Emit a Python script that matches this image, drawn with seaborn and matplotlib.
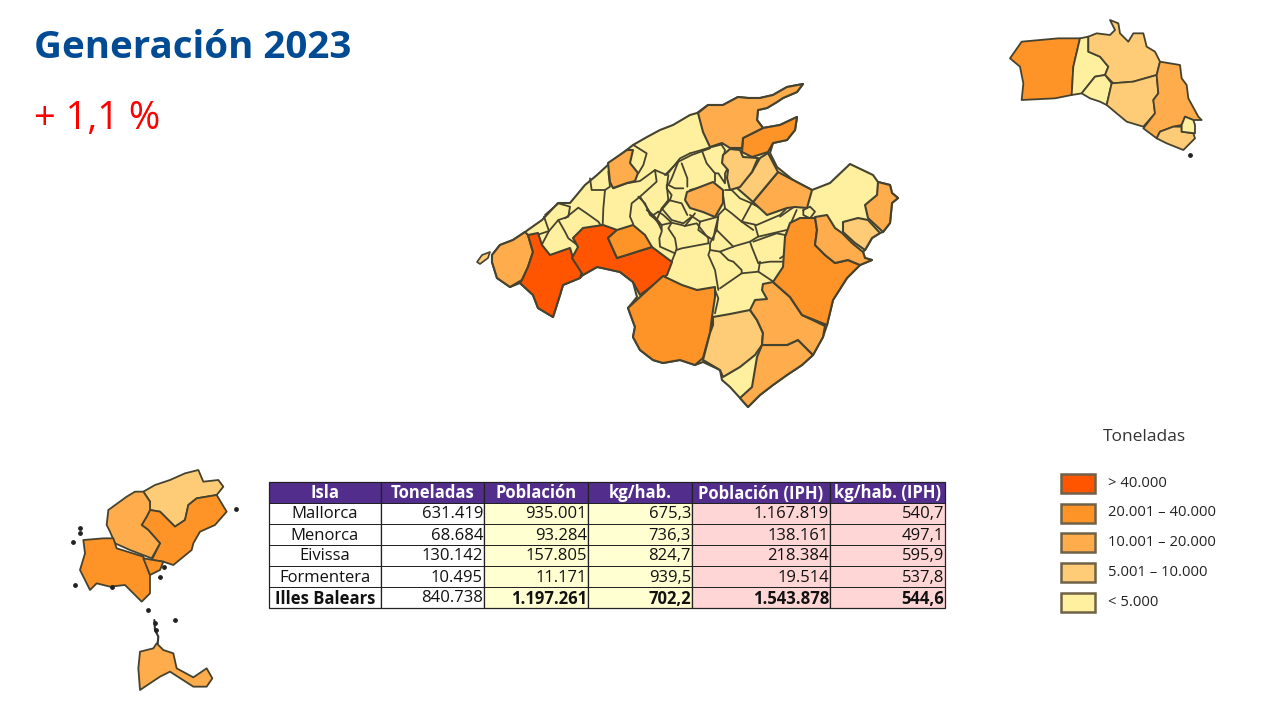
import matplotlib
matplotlib.use("Agg")
import matplotlib.pyplot as plt
import numpy as np
import seaborn as sns
from matplotlib.colors import ListedColormap
from matplotlib.patches import Rectangle

W, H = 1288, 715
EDGE = "#45432f"

# clases de la leyenda (de mayor a menor)
class_labels = ["> 40.000", "20.001 – 40.000", "10.001 – 20.000", "5.001 – 10.000", "< 5.000"]
class_colors = ["#FF5500", "#FE9428", "#FEAC4C", "#FECB76", "#FFF0A0"]

# tabla
table_header = ["Isla", "Toneladas", "Población", "kg/hab.", "Población (IPH)", "kg/hab. (IPH)"]
islas = ["Mallorca", "Menorca", "Eivissa", "Formentera", "Illes Balears"]
toneladas = ["631.419", "68.684", "130.142", "10.495", "840.738"]
poblacion = ["935.001", "93.284", "157.805", "11.171", "1.197.261"]
kg_hab = ["675,3", "736,3", "824,7", "939,5", "702,2"]
poblacion_iph = ["1.167.819", "138.161", "218.384", "19.514", "1.543.878"]
kg_hab_iph = ["540,7", "497,1", "595,9", "537,8", "544,6"]
table_fill = [1, 1, 2, 2, 3, 3]
table_cols = [269, 381, 484, 588, 692, 830, 945]
table_rows = [482, 503, 524, 545, 566, 587, 608]
bold_last = [True, False, True, True, True, True]

# Mallorca: costa (pixeles de la imagen)
mallorca_coast = [(492, 255), (500, 245), (513, 240), (525, 232), (542, 220), (558, 203), (570, 203), (585, 185),
                  (597, 175), (610, 163), (633, 145), (647, 137), (660, 130), (673, 125), (690, 115), (697, 113),
                  (708, 105), (723, 105), (738, 97), (748, 98), (760, 98), (773, 95), (787, 87), (803, 84), (797, 92),
                  (783, 98), (777, 102), (767, 108), (758, 110), (757, 120), (763, 128), (780, 125), (797, 117),
                  (795, 130), (787, 140), (773, 143), (770, 153), (777, 167), (793, 180), (812, 190), (830, 183),
                  (850, 164), (873, 175), (878, 182), (890, 185), (892, 193), (898, 198), (892, 203), (890, 223),
                  (883, 232), (880, 233), (872, 238), (865, 250), (863, 252), (865, 258), (872, 260), (860, 265),
                  (847, 278), (833, 300), (827, 325), (823, 337), (813, 355), (802, 365),
                  (787, 375), (773, 385), (760, 395), (748, 407), (740, 398), (730, 387), (722, 380), (720, 370),
                  (703, 362), (695, 365), (680, 360), (663, 363), (653, 360), (640, 350), (633, 337), (635, 327),
                  (628, 308), (637, 297), (633, 282), (620, 272), (603, 268), (597, 267), (583, 275), (580, 278),
                  (563, 285), (560, 295), (553, 317), (538, 308), (533, 295), (520, 283), (510, 287), (497, 278),
                  (492, 262)]
dragonera = [(477, 262), (482, 255), (490, 252), (488, 258), (480, 264)]

# Mallorca: municipios coloreados (clase, puntos)
andratx = (2, [(492, 255), (500, 245), (513, 240), (525, 232), (528, 235), (533, 252), (528, 267), (522, 280),
               (510, 287), (497, 278), (492, 262)])
calvia = (0, [(528, 235), (538, 233), (542, 245), (550, 255), (570, 248), (573, 258), (582, 272), (580, 278), (563, 285),
              (560, 295), (553, 317), (538, 308), (533, 295), (520, 283), (522, 280), (528, 267), (533, 252)])
palma = (0, [(573, 238), (583, 228), (603, 225), (617, 230), (608, 238), (617, 258), (652, 247), (672, 262), (667, 275),
             (640, 295), (633, 282), (620, 272), (597, 267), (583, 275), (572, 258), (578, 247)])
marratxi = (1, [(608, 238), (617, 230), (633, 225), (645, 235), (652, 247), (617, 258)])
llucmajor = (1, [(663, 276), (682, 285), (697, 290), (715, 287), (715, 297), (712, 317), (710, 333), (703, 358), (695, 365),
                 (680, 360), (663, 363), (653, 360), (640, 350), (633, 337), (635, 327), (628, 308), (640, 297)])
campos = (3, [(713, 317), (730, 314), (750, 310), (757, 320), (763, 333), (762, 345), (755, 355), (740, 367), (723, 377),
              (720, 370), (703, 360), (710, 333), (713, 325)])
santanyi = (2, [(762, 345), (787, 345), (798, 340), (813, 355), (802, 365), (787, 375), (773, 385), (760, 395), (748, 407),
                (740, 398), (752, 387), (757, 357)])
felanitx = (2, [(763, 284), (773, 282), (790, 297), (802, 315), (825, 326), (823, 337), (813, 355), (798, 340), (787, 345),
                (762, 345), (763, 333), (757, 320), (750, 310), (755, 300), (767, 299), (762, 290)])
manacor = (1, [(790, 223), (800, 218), (815, 218), (817, 230), (815, 245), (825, 255), (835, 263), (848, 260), (860, 265),
               (847, 278), (833, 300), (827, 325), (802, 315), (790, 297), (773, 282), (783, 267), (785, 237)])
sant_llorenc = (2, [(815, 217), (827, 215), (835, 228), (842, 233), (852, 243), (863, 252), (865, 258), (872, 260),
                    (860, 265), (848, 260), (835, 263), (825, 255), (815, 245), (817, 230)])
son_servera = (3, [(843, 222), (858, 218), (868, 220), (880, 233), (872, 238), (865, 250), (855, 243), (843, 232)])
capdepera = (2, [(878, 182), (890, 185), (892, 193), (898, 198), (892, 203), (890, 223), (883, 232), (868, 218), (865, 205),
                 (877, 195)])
santa_margalida = (2, [(778, 172), (793, 180), (812, 190), (807, 208), (795, 207), (787, 208), (767, 215), (753, 202)])
muro = (3, [(760, 158), (768, 153), (778, 172), (753, 202), (737, 188), (752, 172)])
sa_pobla = (3, [(723, 155), (730, 149), (740, 150), (743, 157), (758, 158), (752, 172), (740, 187), (730, 190), (727, 178),
                (728, 170), (722, 163)])
inca = (2, [(687, 192), (700, 187), (713, 182), (723, 190), (723, 203), (715, 217), (703, 212), (690, 208), (685, 200)])
alcudia = (1, [(763, 128), (780, 125), (797, 117), (795, 130), (787, 140), (773, 143), (768, 152), (752, 157), (742, 152),
               (743, 138)])
pollenca = (2, [(698, 113), (708, 105), (723, 105), (738, 97), (748, 98), (760, 98), (773, 95), (787, 87), (803, 84),
                (797, 92), (783, 98), (777, 102), (767, 108), (758, 110), (757, 120), (763, 128), (743, 138), (742, 148),
                (730, 148), (722, 143), (710, 147), (703, 132)])
soller = (2, [(608, 163), (627, 150), (633, 150), (630, 163), (638, 173), (635, 181), (627, 183), (613, 188), (610, 182)])
mallorca_regions = [andratx, calvia, palma, marratxi, llucmajor, campos, santanyi, felanitx, manacor, sant_llorenc,
                    son_servera, capdepera, santa_margalida, muro, sa_pobla, inca, alcudia, pollenca, soller]

# lineas entre municipios amarillos, por recorte de la imagen (origen, escala 3)
west_origin = (470, 75)
west_lines = [
    [(222, 425), (237, 468), (207, 478)],
    [(215, 510), (237, 468), (265, 435), (285, 470), (295, 490), (325, 512)],
    [(225, 420), (265, 385), (300, 395), (295, 425), (265, 435)],
    [(285, 430), (325, 398), (350, 415), (385, 440), (395, 455)],
    [(360, 310), (365, 345), (405, 345), (400, 400), (398, 450)],
    [(415, 290), (420, 335), (405, 345)],
    [(430, 340), (470, 325), (510, 318), (555, 285), (560, 320), (510, 365), (485, 385), (480, 425), (490, 448)],
    [(510, 365), (545, 420), (570, 450)],
    [(570, 410), (600, 375), (605, 360), (590, 340), (595, 300)],
    [(555, 285), (590, 300), (630, 250), (660, 235)],
    [(490, 210), (530, 235), (520, 270), (505, 295)],
]
north_origin = (600, 120)
north_lines = [
    [(195, 165), (235, 125), (275, 105), (330, 85)],
    [(235, 125), (215, 175), (205, 195), (225, 205), (250, 205)],
    [(245, 130), (262, 175), (262, 200)],
    [(205, 240), (200, 195)],
    [(205, 240), (245, 250), (262, 285)],
    [(115, 230), (135, 250), (150, 285), (170, 300), (185, 265), (205, 240)],
    [(185, 265), (215, 300), (250, 310), (275, 290)],
    [(170, 300), (185, 330)],
]
inca_origin = (690, 130)
inca_lines = [
    [(0, 70), (35, 60), (50, 55), (100, 42)],
    [(35, 60), (50, 100), (75, 130), (75, 155)],
    [(95, 45), (105, 60), (100, 85), (115, 110), (105, 130), (105, 160), (85, 130), (75, 130)],
    [(0, 180), (40, 170), (70, 160)],
    [(105, 180), (125, 180), (150, 205), (185, 220), (155, 275), (190, 300)],
    [(85, 255), (105, 235), (125, 250), (155, 275)],
    [(105, 235), (100, 200)],
    [(185, 220), (240, 250), (285, 235), (300, 215)],
    [(155, 275), (200, 285), (270, 255), (300, 225)],
    [(195, 285), (205, 320), (290, 300)],
    [(30, 275), (85, 260), (75, 300), (70, 330), (45, 315), (25, 300), (30, 275)],
    [(0, 255), (30, 275)],
]
centre_origin = (640, 210)
centre_lines = [
    [(20, 0), (40, 15), (55, 5)],
    [(40, 15), (65, 45), (95, 38), (70, 15), (55, 5)],
    [(95, 38), (125, 45), (135, 48), (165, 10)],
    [(65, 45), (65, 65), (58, 85), (60, 110), (105, 130), (110, 115), (105, 85), (85, 55), (95, 38)],
    [(110, 120), (125, 115), (205, 100)],
    [(135, 48), (170, 40), (205, 85), (205, 100)],
    [(235, 15), (230, 60), (210, 100), (210, 120), (240, 125), (285, 108), (330, 95), (354, 80)],
    [(230, 60), (280, 110)],
    [(210, 120), (205, 135), (225, 180), (235, 240)],
    [(240, 125), (265, 150), (280, 155), (305, 180), (305, 190), (240, 235)],
    [(360, 155), (355, 185), (305, 190)],
    [(330, 95), (335, 110), (355, 160), (390, 155), (430, 155)],
    [(355, 185), (400, 215)],
    [(340, 95), (410, 70), (435, 75)],
    [(225, 240), (235, 265), (225, 310)],
    [(105, 130), (95, 155)],
]
east_origin = (780, 180)
east_lines = [
    [(0, 110), (40, 82)],
    [(50, 90), (15, 170), (15, 225), (0, 235)],
    [(70, 90), (90, 80), (105, 95), (90, 115), (70, 105), (70, 90)],
]
mallorca_line_groups = [(west_origin, west_lines), (north_origin, north_lines), (inca_origin, inca_lines),
                        (centre_origin, centre_lines), (east_origin, east_lines)]

# Menorca (origen 1000,10, escala 3)
menorca_origin = (1000, 10)
ciutadella = (1, [(30, 145), (65, 95), (120, 90), (175, 85), (240, 85), (220, 170), (215, 255), (165, 265), (65, 270),
                  (70, 220), (60, 170)])
ferreries = (4, [(240, 85), (265, 80), (265, 125), (300, 140), (325, 170), (315, 195), (285, 200), (245, 250), (215, 255),
                 (220, 170)])
mercadal = (3, [(265, 80), (290, 70), (330, 75), (345, 60), (330, 30), (355, 40), (360, 70), (385, 95), (400, 70),
                (430, 70), (440, 110), (465, 125), (480, 155), (470, 195), (400, 215), (340, 220), (315, 195), (325, 170),
                (300, 140), (265, 125)])
migjorn = (4, [(285, 200), (315, 195), (335, 220), (320, 285), (300, 275), (270, 265), (245, 250)])
alaior = (3, [(335, 220), (400, 215), (470, 195), (475, 250), (460, 270), (465, 310), (430, 350), (380, 335), (320, 285)])
mao = (2, [(480, 155), (540, 165), (545, 205), (560, 225), (565, 265), (595, 320), (605, 330), (580, 330), (555, 320),
           (545, 345), (520, 350), (480, 365), (470, 385), (430, 355), (465, 310), (460, 270), (475, 250), (470, 195)])
sant_lluis = (3, [(480, 365), (520, 350), (545, 350), (545, 365), (580, 370), (585, 385), (550, 420), (500, 400), (470, 385)])
es_castell = (4, [(555, 320), (580, 330), (585, 345), (585, 370), (545, 365), (545, 345)])
menorca_regions = [ciutadella, ferreries, mercadal, migjorn, alaior, mao, sant_lluis, es_castell]
menorca_islets = [(570, 435)]

# Eivissa y Formentera (origen 60,460, escala 3)
eivissa_origin = (60, 460)
sant_joan = (3, [(250, 95), (285, 75), (330, 60), (375, 40), (415, 30), (430, 65), (475, 60), (490, 80), (470, 105),
                 (410, 115), (385, 135), (375, 180), (345, 200), (320, 175), (300, 155), (270, 150), (270, 125)])
santa_eularia = (1, [(270, 150), (300, 155), (320, 175), (345, 200), (375, 180), (385, 135), (410, 115), (470, 105),
                     (500, 155), (465, 195), (420, 215), (400, 250), (395, 270), (340, 315), (310, 305), (275, 300),
                     (300, 250), (265, 210), (245, 195), (260, 170)])
sant_antoni = (2, [(145, 150), (200, 110), (225, 95), (250, 95), (270, 125), (270, 150), (260, 170), (245, 195), (265, 210),
                   (300, 250), (275, 295), (210, 270), (165, 250), (150, 215), (140, 195)])
sant_josep = (1, [(70, 240), (130, 235), (160, 235), (170, 265), (250, 290), (270, 345), (270, 400), (245, 425), (215, 395),
                  (195, 375), (150, 380), (110, 370), (90, 390), (60, 330), (75, 280)])
eivissa_town = (1, [(250, 295), (280, 300), (310, 305), (300, 330), (270, 345)])
formentera = (2, [(290, 550), (310, 570), (340, 580), (350, 625), (400, 652), (440, 625), (457, 655), (440, 680), (400, 680),
                  (330, 635), (300, 650), (240, 690), (235, 625), (240, 575), (280, 565)])
eivissa_regions = [sant_joan, santa_eularia, sant_antoni, sant_josep, eivissa_town, formentera]
eivissa_islets = [(60, 205), (60, 220), (38, 247), (45, 374), (528, 147), (346, 480), (285, 490), (287, 510), (265, 450),
                  (300, 352), (312, 320), (157, 380)]
espalmador = [(283, 480), (285, 510), (295, 530), (293, 550)]


def from_zoom(pts, origin):
    return [(origin[0] + x / 3, origin[1] + y / 3) for x, y in pts]


def draw_region(ax, pts, color, lw=1.5, zorder=2):
    xs, ys = zip(*pts)
    ax.fill(xs, ys, facecolor=color, edgecolor=EDGE, linewidth=lw, joinstyle="round", zorder=zorder)


def main():
    sns.set_theme(style="white")
    plt.rcParams["font.family"] = ["Open Sans", "DejaVu Sans"]
    palette = sns.color_palette(class_colors)

    fig = plt.figure(figsize=(W / 100, H / 100), dpi=100)
    ax = fig.add_axes([0, 0, 1, 1])
    ax.set_xlim(0, W)
    ax.set_ylim(H, 0)
    ax.axis("off")

    # titulo
    ax.text(34, 48, "Generación 2023", color="#004B93", fontsize=27.7, fontweight="bold", va="center")
    ax.text(34, 119, "+ 1,1 %", color="#FF0000", fontsize=27.4, va="center")

    # Mallorca
    draw_region(ax, mallorca_coast, palette[4])
    draw_region(ax, dragonera, palette[3], lw=1.2)
    for origin, lines in mallorca_line_groups:
        for line in lines:
            xs, ys = zip(*from_zoom(line, origin))
            ax.plot(xs, ys, color=EDGE, lw=1.3, solid_joinstyle="round", zorder=3)
    for cls, pts in mallorca_regions:
        draw_region(ax, pts, palette[cls], zorder=4)

    # Menorca
    for cls, pts in menorca_regions:
        draw_region(ax, from_zoom(pts, menorca_origin), palette[cls], lw=1.3)
    xs, ys = zip(*from_zoom(menorca_islets, menorca_origin))
    ax.scatter(xs, ys, s=6, color="#222222", zorder=3)

    # Eivissa y Formentera
    for cls, pts in eivissa_regions:
        draw_region(ax, from_zoom(pts, eivissa_origin), palette[cls], lw=1.3)
    xs, ys = zip(*from_zoom(eivissa_islets, eivissa_origin))
    ax.scatter(xs, ys, s=6, color="#222222", zorder=3)
    xs, ys = zip(*from_zoom(espalmador, eivissa_origin))
    ax.plot(xs, ys, color="#333333", lw=1.5, zorder=2)

    # tabla: una columna de heatmap por cada ancho distinto
    fill_cmap = ListedColormap(["#522D8C", "#FFFFFF", "#FFFFD2", "#FFD6D6"])
    top, bottom = table_rows[0], table_rows[-1]
    for i, fill in enumerate(table_fill):
        left, right = table_cols[i], table_cols[i + 1]
        col_ax = fig.add_axes([left / W, 1 - bottom / H, (right - left) / W, (bottom - top) / H])
        classes = np.array([[0]] + [[fill]] * len(islas))
        sns.heatmap(classes, ax=col_ax, cmap=fill_cmap, vmin=0, vmax=3, cbar=False, xticklabels=False, yticklabels=False,
                    linewidths=0.7, linecolor="#222222")
        col_ax.add_patch(Rectangle((0, 0), 1, len(islas) + 1, fill=False, ec="#222222", lw=0.9, clip_on=False))

    columns = [islas, toneladas, poblacion, kg_hab, poblacion_iph, kg_hab_iph]
    for i, head in enumerate(table_header):
        cx = (table_cols[i] + table_cols[i + 1]) / 2
        fig.text(cx / W, 1 - ((table_rows[0] + table_rows[1]) / 2 + 1) / H, head, color="white", fontsize=12,
                 fontweight="bold", ha="center", va="center", zorder=10)
    for i, col in enumerate(columns):
        for r, val in enumerate(col):
            y = (table_rows[r + 1] + table_rows[r + 2]) / 2 + 1
            weight = "bold" if r == len(col) - 1 and bold_last[i] else "normal"
            if i == 0:
                x, ha = (table_cols[0] + table_cols[1]) / 2, "center"
            else:
                x, ha = table_cols[i + 1] - 1, "right"
            fig.text(x / W, 1 - y / H, val, color="#111111", fontsize=12, fontweight=weight, ha=ha, va="center",
                     zorder=10)

    # leyenda
    ax.text(1144, 437, "Toneladas", color="#333333", fontsize=12.5, ha="center", va="center")
    swatch_tops = [474, 503.5, 533, 563, 593]
    for color, label, sy in zip(palette, class_labels, swatch_tops):
        ax.add_patch(Rectangle((1061, sy), 34, 19, facecolor=color, edgecolor="#6f6248", lw=1.8, zorder=2))
        ax.text(1108, sy + 9.5, label, color="#222222", fontsize=10.6, va="center")

    fig.savefig("out.png", dpi=100)


if __name__ == "__main__":
    main()
